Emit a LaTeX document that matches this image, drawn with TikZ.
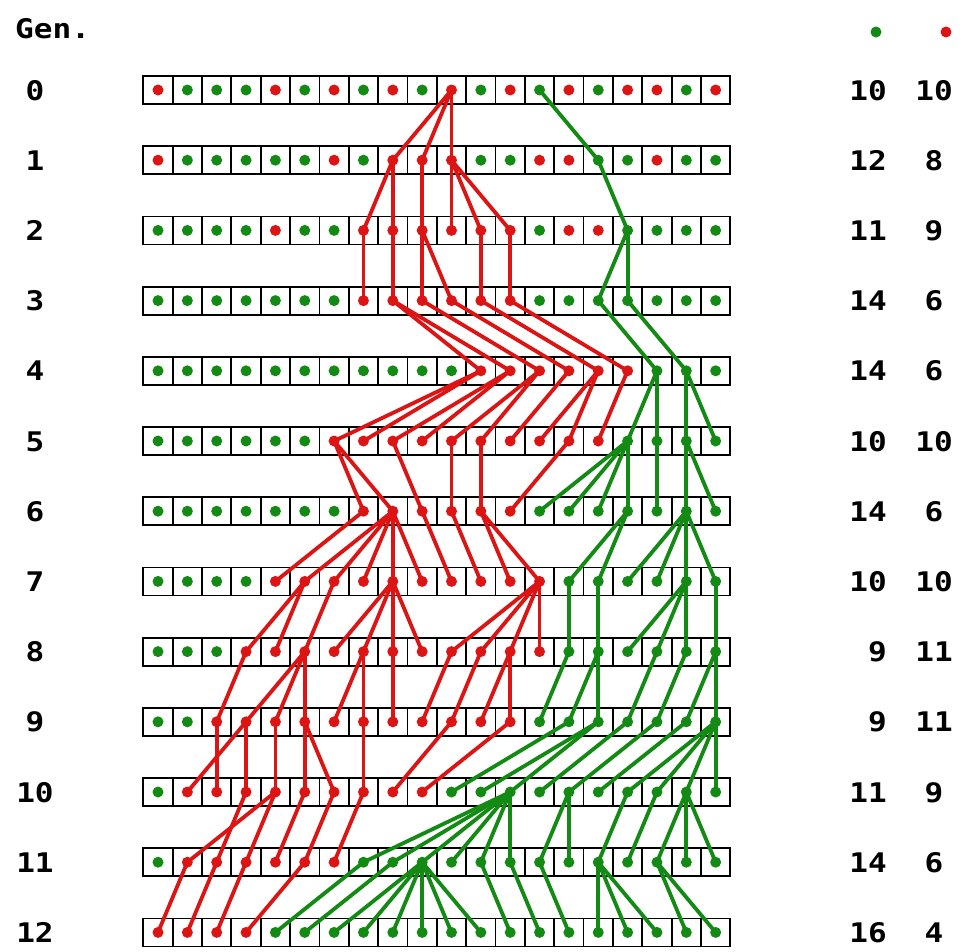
\documentclass[tikz,border=0pt]{standalone}
\usepackage{fontspec}
\setmainfont{DejaVu Sans Mono}[FakeStretch=1.15]
\usepackage{tikz}
\usetikzlibrary{positioning}
\definecolor{colR}{HTML}{DD1414}
\definecolor{colG}{HTML}{138A13}

\begin{document}
\begin{tikzpicture}[x=1pt, y=-1pt,
    cellbox/.style={draw, line width=1.8pt, fill=white, minimum width=29.35pt, minimum height=28pt, inner sep=0pt, outer sep=0pt},
    dot/.style={circle, inner sep=0pt, minimum size=11pt},
    lin/.style={line width=3.8pt, line cap=round},
    lab/.style={font=\bfseries\fontsize{27}{30}\selectfont, inner sep=0pt}]
    \useasboundingbox (0,0) rectangle (963,951);
    % header
    \node[lab, anchor=base west] (gen) at (15,38) {Gen.};
    \node[dot, fill=colG] (keyG) at (876,32) {};
    \node[dot, fill=colR] (keyR) at (946,32) {};
    % rows of cells, with the counts
    \foreach \g/\ng/\nr in {0/10/10, 1/12/8, 2/11/9, 3/14/6, 4/14/6, 5/10/10, 6/14/6,
                            7/10/10, 8/9/11, 9/9/11, 10/11/9, 11/14/6, 12/16/4} {
        \foreach \i in {0,...,19}
            \node[cellbox] (g\g-\i) at ({158+29.35*\i},{90+70.2*\g}) {};
        \node[lab, anchor=base] (num\g) at (35,{100+70.2*\g}) {\g};
        \node[lab, anchor=base east] (nG\g) at (887,{100+70.2*\g}) {\ng};
        \node[lab, anchor=base] (nR\g) at (934,{100+70.2*\g}) {\nr};
    }
    % lineages: child/parent/type, parent in the row above
    \foreach \g/\links in {
        1/{8/10/R, 9/10/R, 10/10/R, 15/13/G},
        2/{7/8/R, 8/8/R, 9/9/R, 10/10/R, 11/10/R, 12/10/R, 16/15/G},
        3/{7/7/R, 8/8/R, 9/9/R, 10/9/R, 11/11/R, 12/12/R, 15/16/G, 16/16/G},
        4/{11/8/R, 12/8/R, 13/9/R, 14/10/R, 15/11/R, 16/12/R, 17/15/G, 18/16/G},
        5/{6/11/R, 7/11/R, 8/12/R, 9/12/R, 10/13/R, 11/13/R, 12/14/R, 13/15/R, 14/15/R, 15/16/R,
           16/17/G, 17/17/G, 18/18/G, 19/18/G},
        6/{7/6/R, 8/6/R, 9/8/R, 10/10/R, 11/11/R, 12/14/R,
           13/16/G, 14/16/G, 15/16/G, 16/16/G, 17/17/G, 18/18/G, 19/18/G},
        7/{4/7/R, 5/8/R, 6/8/R, 7/8/R, 8/8/R, 9/8/R, 10/9/R, 11/10/R, 12/11/R, 13/11/R,
           14/16/G, 15/16/G, 16/18/G, 17/18/G, 18/18/G, 19/18/G},
        8/{3/5/R, 4/5/R, 5/6/R, 6/8/R, 7/8/R, 8/8/R, 9/8/R, 10/13/R, 11/13/R, 12/13/R, 13/13/R,
           14/14/G, 15/15/G, 16/18/G, 17/18/G, 18/18/G, 19/19/G},
        9/{2/3/R, 3/5/R, 4/5/R, 5/5/R, 6/7/R, 7/7/R, 8/8/R, 9/10/R, 10/11/R, 11/12/R, 12/12/R,
           13/14/G, 14/15/G, 15/15/G, 16/17/G, 17/18/G, 18/19/G, 19/19/G},
        10/{1/3/R, 2/2/R, 3/3/R, 4/4/R, 5/5/R, 6/5/R, 7/7/R, 8/10/R, 9/12/R,
            10/14/G, 11/15/G, 12/15/G, 13/16/G, 14/17/G, 15/18/G, 16/19/G, 17/19/G, 18/19/G, 19/19/G},
        11/{1/4/R, 2/3/R, 3/4/R, 4/5/R, 5/6/R, 6/7/R,
            7/12/G, 8/12/G, 9/12/G, 10/12/G, 11/12/G, 12/12/G, 13/14/G, 14/14/G, 15/16/G,
            16/17/G, 17/18/G, 18/18/G, 19/18/G},
        12/{0/1/R, 1/2/R, 2/3/R, 3/5/R,
            4/7/G, 5/8/G, 6/9/G, 7/9/G, 8/9/G, 9/9/G, 10/9/G, 11/9/G, 12/11/G, 13/12/G, 14/13/G,
            15/15/G, 16/15/G, 17/15/G, 18/17/G, 19/17/G}} {
        \pgfmathtruncatemacro\pg{\g-1}
        \foreach \c/\p/\t in \links
            \draw[lin, col\t] (g\pg-\p.center) -- (g\g-\c.center);
    }
    % type of every individual
    \foreach \g/\row in {
        0/{R,G,G,G,R,G,R,G,R,G,R,G,R,G,R,G,R,R,G,R},
        1/{R,G,G,G,G,G,R,G,R,R,R,G,G,R,R,G,G,R,G,G},
        2/{G,G,G,G,R,G,G,R,R,R,R,R,R,G,R,R,G,G,G,G},
        3/{G,G,G,G,G,G,G,R,R,R,R,R,R,G,G,G,G,G,G,G},
        4/{G,G,G,G,G,G,G,G,G,G,G,R,R,R,R,R,R,G,G,G},
        5/{G,G,G,G,G,G,R,R,R,R,R,R,R,R,R,R,G,G,G,G},
        6/{G,G,G,G,G,G,G,R,R,R,R,R,R,G,G,G,G,G,G,G},
        7/{G,G,G,G,R,R,R,R,R,R,R,R,R,R,G,G,G,G,G,G},
        8/{G,G,G,R,R,R,R,R,R,R,R,R,R,R,G,G,G,G,G,G},
        9/{G,G,R,R,R,R,R,R,R,R,R,R,R,G,G,G,G,G,G,G},
        10/{G,R,R,R,R,R,R,R,R,R,G,G,G,G,G,G,G,G,G,G},
        11/{G,R,R,R,R,R,R,G,G,G,G,G,G,G,G,G,G,G,G,G},
        12/{R,R,R,R,G,G,G,G,G,G,G,G,G,G,G,G,G,G,G,G}} {
        \foreach \t [count=\i from 0] in \row
            \node[dot, fill=col\t] (d\g-\i) at (g\g-\i.center) {};
    }
\end{tikzpicture}
\end{document}
